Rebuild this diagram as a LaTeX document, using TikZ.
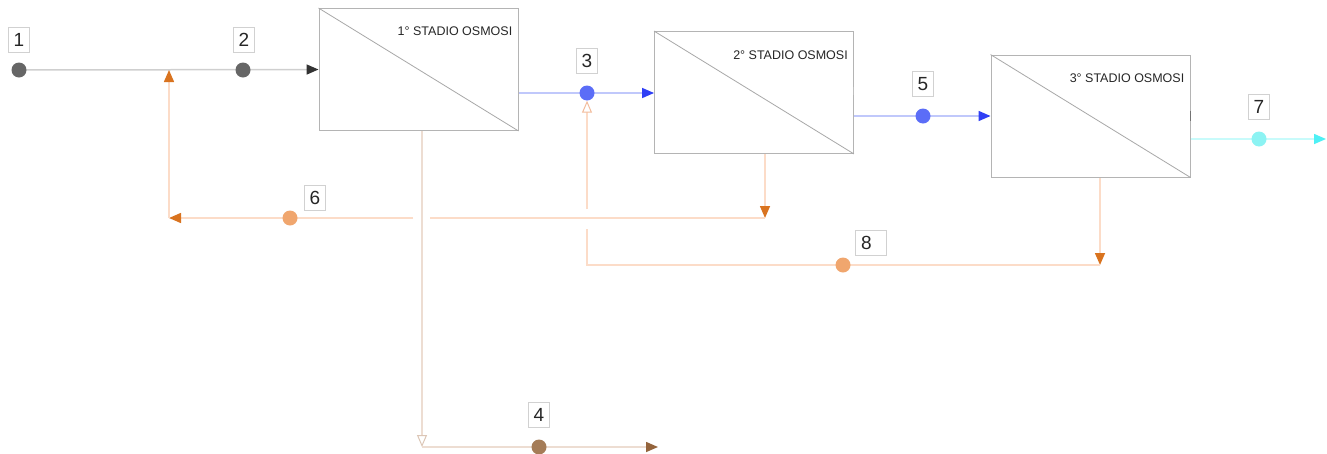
\documentclass[tikz,border=0pt]{standalone}
\usepackage{fontspec}
\setmainfont{Liberation Sans}
\usetikzlibrary{arrows.meta,calc}

\definecolor{boxgray}{HTML}{B4B4B4}
\definecolor{diaggray}{HTML}{A8A8A8}
\definecolor{feedline}{HTML}{CFCFCF}
\definecolor{feeddot}{HTML}{666666}
\definecolor{feedtip}{HTML}{333333}
\definecolor{permline}{HTML}{C0C8FB}
\definecolor{permdot}{HTML}{5B6DF7}
\definecolor{permtip}{HTML}{2F3FF5}
\definecolor{concline}{HTML}{FCDCC8}
\definecolor{concdot}{HTML}{F0A66E}
\definecolor{conctip}{HTML}{D9731F}
\definecolor{concopen}{HTML}{F2BC9C}
\definecolor{prodline}{HTML}{C8FBFB}
\definecolor{proddot}{HTML}{8CF3F3}
\definecolor{prodtip}{HTML}{4EF0F5}
\definecolor{rejline}{HTML}{EDDDD2}
\definecolor{rejdot}{HTML}{A57C57}
\definecolor{rejtip}{HTML}{94643C}
\definecolor{rejopen}{HTML}{DCC6B6}

\pgfdeclarelayer{bg}
\pgfsetlayers{bg,main}

\begin{document}
\begin{tikzpicture}[x=1pt,y=-1pt,
  stage/.style={draw=boxgray, line width=0.9pt, fill=white,
    minimum width=199pt, minimum height=122pt, inner sep=0pt},
  diag/.style={draw=diaggray, line width=0.8pt},
  stagetext/.style={anchor=east, inner sep=0pt,
    font=\fontsize{12.5}{14}\selectfont, text=black!85},
  lab/.style={draw=black!18, fill=white, line width=0.8pt,
    inner sep=2.5pt, minimum height=25pt, minimum width=21pt,
    font=\fontsize{19}{21}\selectfont, text=black!85},
  dot/.style={circle, minimum size=15pt, inner sep=0pt},
  flow/.style={line width=1.5pt},
  port/.style={draw=black!55, line width=1pt}
]
\useasboundingbox (0,0) rectangle (1327,453);

% osmosis stages
\node[stage] (s1) at (418.5,69.5) {};
\node[stage] (s2) at (754,92.5) {};
\node[stage] (s3) at (1090.5,116) {};
\draw[diag] (s1.north west) -- (s1.south east);
\draw[diag] (s2.north west) -- (s2.south east);
\draw[diag] (s3.north west) -- (s3.south east);
\node[stagetext] (t1) at ($(s1.north east)+(-6,23)$) {1° STADIO OSMOSI};
\node[stagetext] (t2) at ($(s2.north east)+(-6,24)$) {2° STADIO OSMOSI};
\node[stagetext] (t3) at ($(s3.north east)+(-6,24)$) {3° STADIO OSMOSI};

% port markers on the stage outlines
\draw[port, draw=black!30] ($(s2.north)+(-4,0)$) -- ($(s2.north)+(6,0)$);
\draw[port, draw=black!25] ($(s2.east)+(0,-6)$) -- ($(s2.east)+(0,2)$);
\draw[port] ($(s3.east)+(0,-5)$) -- ($(s3.east)+(0,5)$);

% stream points
\node[dot, fill=feeddot] (p1) at (19,70) {};
\node[dot, fill=feeddot] (p2) at (243,70) {};
\node[dot, fill=permdot] (p3) at (587,93) {};
\node[dot, fill=rejdot]  (p4) at (539,447) {};
\node[dot, fill=permdot] (p5) at (923,116) {};
\node[dot, fill=concdot] (p6) at (290,218) {};
\node[dot, fill=proddot] (p7) at (1259,139) {};
\node[dot, fill=concdot] (p8) at (843,265) {};

% stream numbers
\node[lab] (l1) at (19,40) {1};
\node[lab] (l2) at (244,40) {2};
\node[lab] (l3) at (587,61) {3};
\node[lab] (l4) at (539,415) {4};
\node[lab] (l5) at (923,84) {5};
\node[lab] (l6) at (315,198) {6};
\node[lab] (l7) at (1259,107) {7};
\node[lab, minimum width=31pt, align=left] (l8) at (871,243) {8\hspace{9pt}};

% junction points of the piping
\coordinate (k1) at (422,447);
\coordinate (out4) at (658,447);
\coordinate (k2) at (765,218);
\coordinate (j6a) at (430,218);
\coordinate (j6b) at (413,218);
\coordinate (k6) at (169,218);
\coordinate (k3) at (1100,265);
\coordinate (k8) at (587,265);
\coordinate (j8a) at (587,229);
\coordinate (j8b) at (587,209);
\coordinate (out7) at (1326,139);

\begin{pgfonlayer}{bg}
  % feed
  \draw[flow, draw=feedline, -{Triangle[length=12pt,width=10pt,color=feedtip]}] (p1.center) -- (s1.west);
  % permeate stage 1 -> stage 2 -> stage 3
  \draw[flow, draw=permline, -{Triangle[length=12pt,width=10pt,color=permtip]}] (s1.east |- p3.center) -- (s2.west |- p3.center);
  \draw[flow, draw=permline, -{Triangle[length=12pt,width=10pt,color=permtip]}] (s2.east |- p5.center) -- (s3.west |- p5.center);
  % product
  \draw[flow, draw=prodline, -{Triangle[length=12pt,width=10pt,color=prodtip]}] (s3.east |- p7.center) -- (out7);
  % reject of stage 1
  \draw[flow, draw=rejline, -{Triangle[length=12pt,width=10pt,open,color=rejopen,fill=white,line width=1pt]}] (s1.south -| k1) -- (k1);
  \draw[flow, draw=rejline, -{Triangle[length=12pt,width=10pt,color=rejtip]}] (k1) -- (out4);
  % concentrate of stage 2 back to the feed
  \draw[flow, draw=concline, -{Triangle[length=12pt,width=10pt,color=conctip]}] (s2.south -| k2) -- (k2);
  \draw[flow, draw=concline] (k2) -- (j6a);
  \draw[flow, draw=concline, -{Triangle[length=12pt,width=10pt,color=conctip]}] (j6b) -- (k6);
  \draw[flow, draw=concline, -{Triangle[length=12pt,width=10pt,color=conctip]}] (k6) -- (k6 |- p1.center);
  % concentrate of stage 3 back to stage 2
  \draw[flow, draw=concline, -{Triangle[length=12pt,width=10pt,color=conctip]}] (s3.south -| k3) -- (k3);
  \draw[flow, draw=concline] (k3) -- (k8) -- (j8a);
  \draw[flow, draw=concline, -{Triangle[length=12pt,width=10pt,open,color=concopen,fill=white,line width=1pt]}] (j8b) -- (p3.south);
\end{pgfonlayer}
\end{tikzpicture}
\end{document}
